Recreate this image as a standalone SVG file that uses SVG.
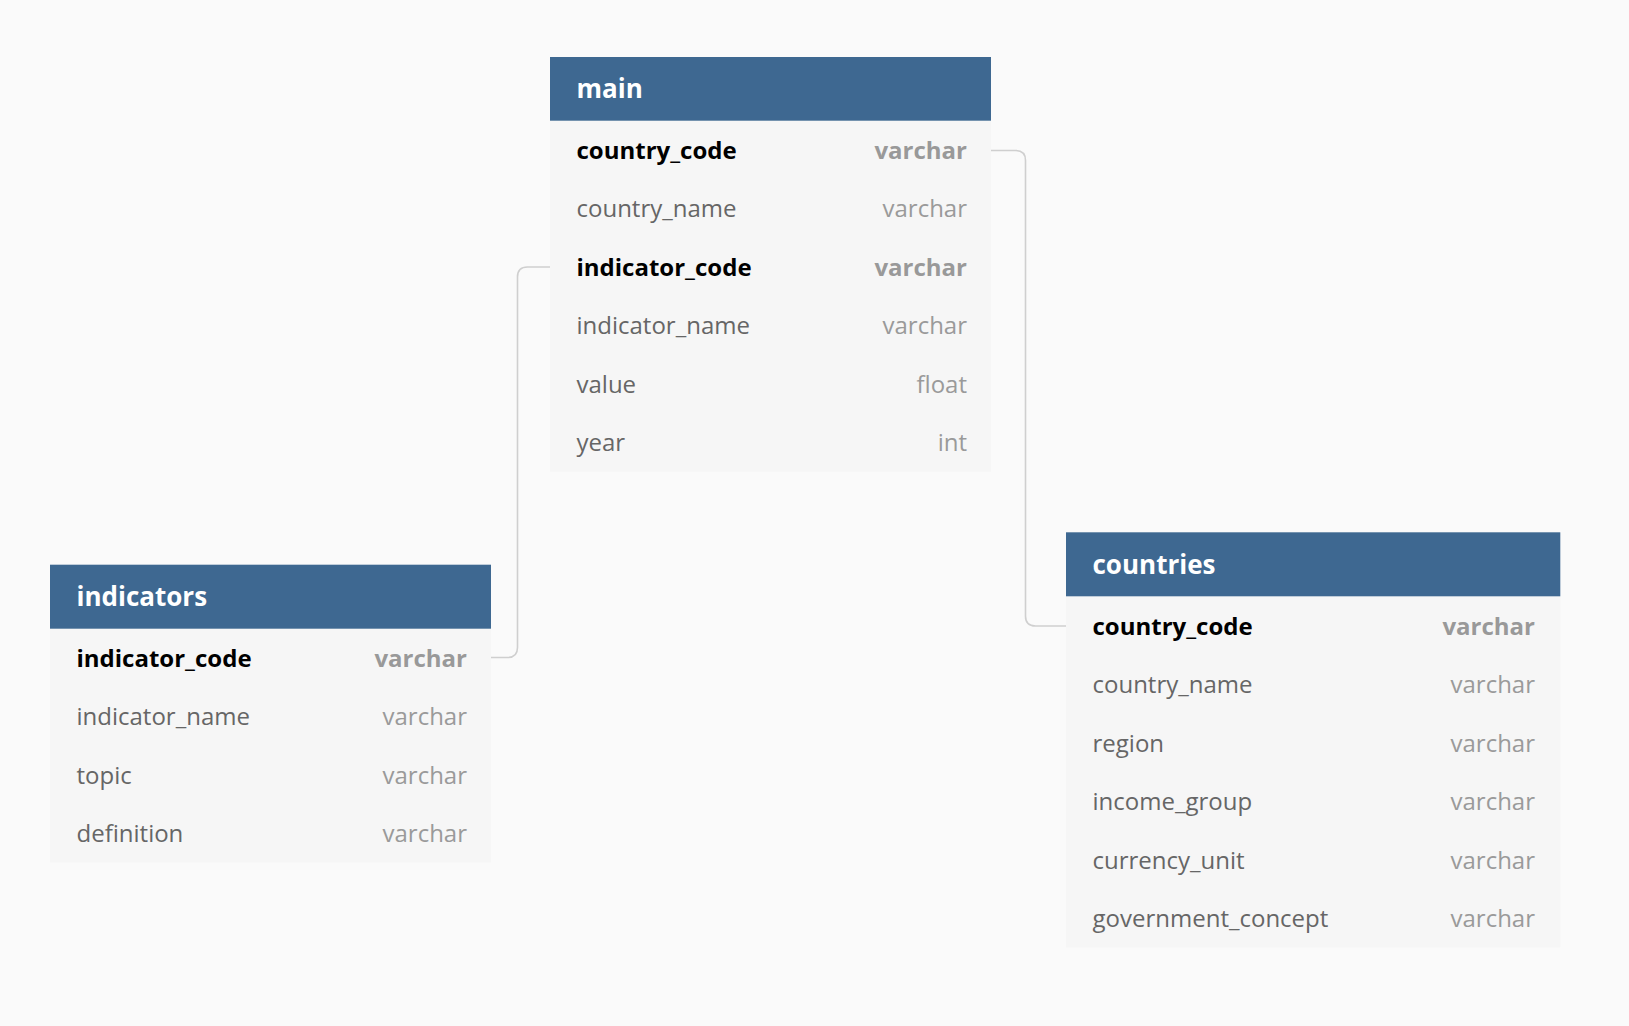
<svg xmlns="http://www.w3.org/2000/svg" width="1629" height="1026" viewBox="0 0 1629 1026">
<style>
.hd{fill:#3e6891}
.bd{fill:#f6f6f6}
.ht{font-family:"Open Sans","Liberation Sans",sans-serif;font-size:26px;font-weight:700;fill:#ffffff}
.fn{font-family:"Open Sans","Liberation Sans",sans-serif;font-size:24px;fill:#666666}
.fk{font-family:"Open Sans","Liberation Sans",sans-serif;font-size:24px;font-weight:700;fill:#000000}
.ty{font-family:"Open Sans","Liberation Sans",sans-serif;font-size:24px;fill:#9a9a9a;text-anchor:end}
.tk{font-family:"Open Sans","Liberation Sans",sans-serif;font-size:24px;font-weight:700;fill:#999999;text-anchor:end}
.cn{fill:none;stroke:#cfcfcf;stroke-width:1.6}
</style>
<rect x="0" y="0" width="1629" height="1026" fill="#fafafa"/>
<g id="connectors">
<path class="cn" d="M991,150.5 H1015.5 Q1025.5,150.5 1025.5,160.5 V616 Q1025.5,626 1035.5,626 H1066"/>
<path class="cn" d="M550,267 H527.5 Q517.5,267 517.5,277 V647.5 Q517.5,657.5 507.5,657.5 H491"/>
</g>
<g id="main">
<rect class="bd" x="550" y="120.7" width="441" height="351"/>
<rect class="hd" x="550" y="57" width="441" height="63.7"/>
<text class="ht" x="576.5" y="98">main</text>
<text class="fk" x="576.5" y="158.5">country_code</text><text class="tk" x="967" y="158.5">varchar</text>
<text class="fn" x="576.5" y="217">country_name</text><text class="ty" x="967" y="217">varchar</text>
<text class="fk" x="576.5" y="275.5">indicator_code</text><text class="tk" x="967" y="275.5">varchar</text>
<text class="fn" x="576.5" y="334">indicator_name</text><text class="ty" x="967" y="334">varchar</text>
<text class="fn" x="576.5" y="392.5">value</text><text class="ty" x="967" y="392.5">float</text>
<text class="fn" x="576.5" y="451">year</text><text class="ty" x="967" y="451">int</text>
</g>
<g id="indicators">
<rect class="bd" x="50" y="628.7" width="441" height="233.6"/>
<rect class="hd" x="50" y="564.7" width="441" height="64"/>
<text class="ht" x="76.5" y="606">indicators</text>
<text class="fk" x="76.5" y="666.5">indicator_code</text><text class="tk" x="467" y="666.5">varchar</text>
<text class="fn" x="76.5" y="725">indicator_name</text><text class="ty" x="467" y="725">varchar</text>
<text class="fn" x="76.5" y="783.5">topic</text><text class="ty" x="467" y="783.5">varchar</text>
<text class="fn" x="76.5" y="842">definition</text><text class="ty" x="467" y="842">varchar</text>
</g>
<g id="countries">
<rect class="bd" x="1066" y="596.3" width="494.3" height="351"/>
<rect class="hd" x="1066" y="532.3" width="494.3" height="64"/>
<text class="ht" x="1092.5" y="574">countries</text>
<text class="fk" x="1092.5" y="634.5">country_code</text><text class="tk" x="1535" y="634.5">varchar</text>
<text class="fn" x="1092.5" y="693">country_name</text><text class="ty" x="1535" y="693">varchar</text>
<text class="fn" x="1092.5" y="751.5">region</text><text class="ty" x="1535" y="751.5">varchar</text>
<text class="fn" x="1092.5" y="810">income_group</text><text class="ty" x="1535" y="810">varchar</text>
<text class="fn" x="1092.5" y="868.5">currency_unit</text><text class="ty" x="1535" y="868.5">varchar</text>
<text class="fn" x="1092.5" y="927">government_concept</text><text class="ty" x="1535" y="927">varchar</text>
</g>
</svg>
